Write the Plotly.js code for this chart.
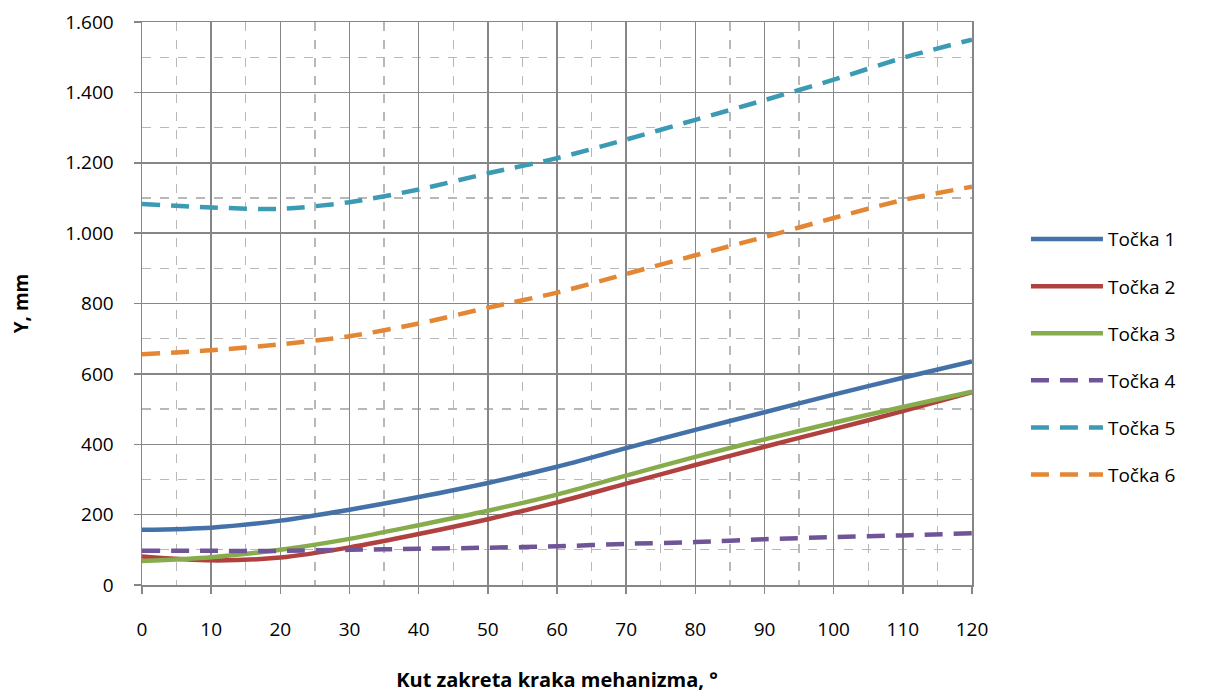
<!DOCTYPE html>
<html>
<head>
<meta charset="utf-8">
<script src="https://cdn.plot.ly/plotly-3.0.1.min.js"></script>
<style>html,body{margin:0;padding:0;background:#fff;}#chart{width:1206px;height:693px;}</style>
</head>
<body>
<div id="chart"></div>
<script>
const angles = [0, 10, 20, 30, 40, 50, 60, 70, 80, 90, 100, 110, 120];
const tocka1 = [157, 163, 183, 214, 250, 290, 336, 389, 441, 491, 541, 589, 635];
const tocka2 = [81, 70, 78, 107, 145, 187, 235, 288, 341, 393, 443, 494, 548];
const tocka3 = [68, 79, 100, 131, 170, 211, 257, 311, 364, 414, 461, 506, 549];
const tocka4 = [97, 97, 97, 100, 103, 106, 110, 117, 122, 130, 136, 141, 147];
const tocka5 = [1083, 1073, 1069, 1088, 1124, 1170, 1213, 1266, 1322, 1378, 1436, 1498, 1550];
const tocka6 = [656, 667, 684, 707, 743, 788, 831, 884, 937, 989, 1043, 1094, 1132];
const seriesNames = ['Točka 1', 'Točka 2', 'Točka 3', 'Točka 4', 'Točka 5', 'Točka 6'];
const seriesData = [tocka1, tocka2, tocka3, tocka4, tocka5, tocka6];
const colors = ['#4472a8', '#b0413e', '#86ac4b', '#6f5597', '#3c9bb4', '#e48735'];
const dashes = ['solid', 'solid', 'solid', '18px,11px', '18px,11px', '18px,11px'];

const FONT = '"Open Sans", sans-serif';

const traces = seriesData.map((ys, i) => ({
  x: angles, y: ys, name: seriesNames[i], type: 'scatter', mode: 'lines',
  line: {color: colors[i], width: 4.5, dash: dashes[i], shape: 'spline', smoothing: 0.8},
  legendgroup: 'g' + i
}));

const gridMajor = '#868686';
const gridMinor = '#b8b8b8';

const layout = {
  width: 1206, height: 693,
  margin: {l: 142, r: 234, t: 22, b: 108},
  paper_bgcolor: '#ffffff', plot_bgcolor: '#ffffff',
  separators: ',.',
  font: {family: FONT, size: 19, color: '#000'},
  showlegend: true,
  legend: {
    x: 1.065, xanchor: 'left', y: 0.648, yanchor: 'top',
    traceorder: 'grouped', tracegroupgap: 19.4,
    font: {family: FONT, size: 19, color: '#000'},
    itemwidth: 72
  },
  xaxis: {
    range: [0, 120], dtick: 10, tick0: 0,
    showgrid: true, gridcolor: gridMajor, gridwidth: 1.5,
    minor: {dtick: 5, showgrid: true, gridcolor: gridMinor, griddash: 'dash', gridwidth: 1.3},
    showline: true, linecolor: gridMajor, linewidth: 1.5, mirror: true,
    ticks: 'outside', ticklen: 7, tickcolor: gridMajor, tickwidth: 1.5,
    ticklabelstandoff: 20,
    tickfont: {family: FONT, size: 19, color: '#000'},
    zeroline: false,
    title: {text: '<b>Kut zakreta kraka mehanizma, °</b>', font: {family: FONT, size: 20, color: '#000'}, standoff: 40}
  },
  yaxis: {
    range: [0, 1600], dtick: 200, tick0: 0, tickformat: ',d',
    showgrid: true, gridcolor: gridMajor, gridwidth: 1.5,
    minor: {dtick: 100, showgrid: true, gridcolor: gridMinor, griddash: 'dash', gridwidth: 1.3},
    showline: true, linecolor: gridMajor, linewidth: 1.5, mirror: true,
    ticks: 'outside', ticklen: 7, tickcolor: gridMajor, tickwidth: 1.5,
    ticklabelstandoff: 16,
    tickfont: {family: FONT, size: 19, color: '#000'},
    zeroline: false,
    title: {text: '<b>Y, mm</b>', font: {family: FONT, size: 19, color: '#000'}, standoff: 31}
  }
};

Plotly.newPlot('chart', traces, layout, {displayModeBar: false, staticPlot: true});
</script>
</body>
</html>
